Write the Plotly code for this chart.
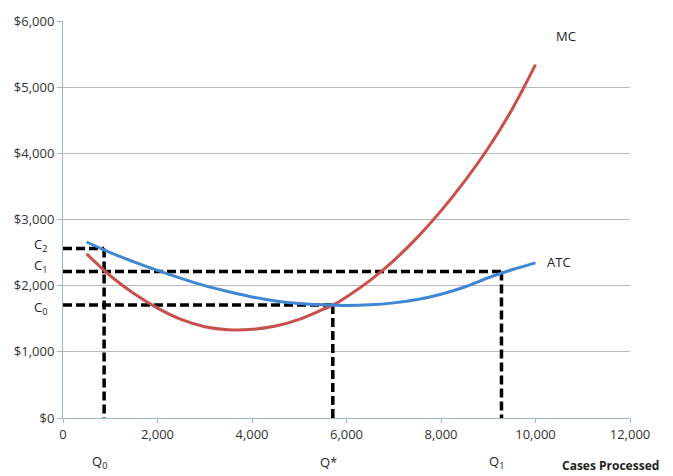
import plotly.graph_objects as go

# Data
q = [500, 1000, 1500, 2000, 2500, 3000, 3500, 4000, 4500, 5000, 5500, 5750,
     6000, 6500, 7000, 7500, 8000, 8500, 9000, 9500, 10000]
mc = [2480, 2150, 1880, 1660, 1490, 1380, 1335, 1340, 1390, 1490, 1640, 1720,
      1830, 2080, 2380, 2730, 3130, 3580, 4080, 4660, 5340]
atc = [2660, 2500, 2360, 2230, 2110, 2000, 1910, 1830, 1770, 1730, 1710, 1705,
       1700, 1710, 1740, 1790, 1870, 1980, 2120, 2240, 2345]

# Reference levels (quantity, cost)
q_marks = [870, 5710, 9280]          # Q0, Q*, Q1
q_labels = ["Q<sub>0</sub>", "Q*", "Q<sub>1</sub>"]
c_marks = [1707, 2215, 2560]         # C0, C1, C2
c_labels = ["C<sub>0</sub>", "C<sub>1</sub>", "C<sub>2</sub>"]
c_label_pos = [1660, 2290, 2620]
c_to_q = [5710, 9280, 870]
q_top = [2560, 1707, 2215]
below_axis = -530

y_ticks = [0, 1000, 2000, 3000, 4000, 5000, 6000]
y_ticktext = ["$0", "$1,000", "$2,000", "$3,000", "$4,000", "$5,000", "$6,000"]
x_ticks = [0, 2000, 4000, 6000, 8000, 10000, 12000]
x_ticktext = ["0", "2,000", "4,000", "6,000", "8,000", "10,000", "12,000"]

FONT = "Open Sans"
RED = "#c8504b"
BLUE = "#3f86d4"

fig = go.Figure()

dash_style = dict(color="black", width=3.5, dash="9px,4px")
for c, qq in zip(c_marks, c_to_q):
    fig.add_trace(go.Scatter(x=[0, qq], y=[c, c], mode="lines", line=dash_style,
                             hoverinfo="skip", showlegend=False, cliponaxis=False))
for qq, top in zip(q_marks, q_top):
    fig.add_trace(go.Scatter(x=[qq, qq], y=[top, below_axis], mode="lines", line=dash_style,
                             hoverinfo="skip", showlegend=False, cliponaxis=False))

fig.add_trace(go.Scatter(x=q, y=mc, mode="lines", line=dict(color=RED, width=3, shape="spline"),
                         name="MC", showlegend=False))
fig.add_trace(go.Scatter(x=q, y=atc, mode="lines", line=dict(color=BLUE, width=3, shape="spline"),
                         name="ATC", showlegend=False))

annotations = []
annotations.append(dict(x=10650, y=5780, xref="x", yref="y", text="MC", showarrow=False,
                        font=dict(family=FONT, size=13, color="#222")))
annotations.append(dict(x=10500, y=2360, xref="x", yref="y", text="ATC", showarrow=False,
                        font=dict(family=FONT, size=13, color="#222")))
for qq, lab in zip(q_marks, q_labels):
    annotations.append(dict(x=qq - 100, y=-0.112, xref="x", yref="paper", text=lab, showarrow=False,
                            yanchor="middle", font=dict(family=FONT, size=13, color="#222")))
for pos, lab in zip(c_label_pos, c_labels):
    annotations.append(dict(x=-0.04, y=pos, xref="paper", yref="y", text=lab, showarrow=False,
                            xanchor="center", font=dict(family=FONT, size=13, color="#222")))
annotations.append(dict(x=1.055, y=-0.12, xref="paper", yref="paper", text="<b>Cases Processed</b>",
                        showarrow=False, xanchor="right", yanchor="middle",
                        font=dict(family=FONT, size=12, color="#222")))

fig.update_layout(
    width=673, height=476,
    margin=dict(l=63, r=43, t=17, b=58),
    paper_bgcolor="white", plot_bgcolor="white",
    annotations=annotations,
    xaxis=dict(range=[0, 12000], tickmode="array", tickvals=x_ticks, ticktext=x_ticktext,
               showgrid=False, zeroline=False, showline=True,
               linecolor="#9fb8c8", linewidth=1, ticks="outside", ticklen=4, tickcolor="#9fb8c8",
               tickfont=dict(family=FONT, size=13, color="#333")),
    yaxis=dict(range=[0, 6000], tickmode="array", tickvals=y_ticks, ticktext=y_ticktext,
               showgrid=True, gridcolor="#b8b8c2", gridwidth=1,
               zeroline=False, showline=True, linecolor="#9fb8c8", linewidth=1,
               ticks="outside", ticklen=5, tickcolor="#9fb8c8",
               tickfont=dict(family=FONT, size=13, color="#333")),
)

fig.write_html("out.html")
